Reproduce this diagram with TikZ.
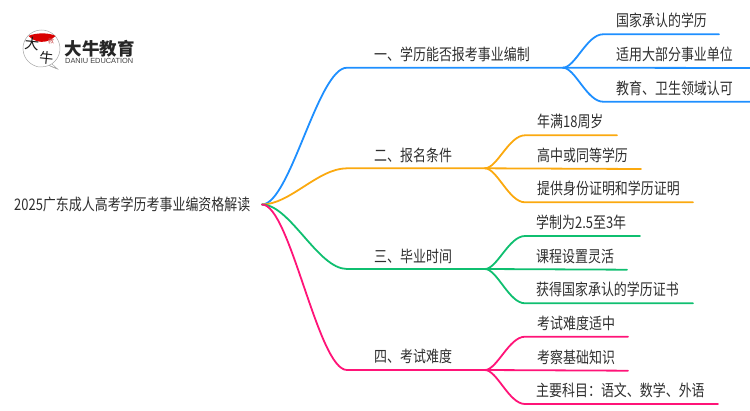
\documentclass[tikz,border=0pt]{standalone}
\usepackage{fontspec}
\setmainfont[FakeStretch=0.81]{Noto Sans CJK SC}
\newfontfamily\logofont{Noto Sans CJK SC}
\newfontfamily\latinlogo{Liberation Sans}
\definecolor{cblue}{HTML}{1E8FFF}
\definecolor{corange}{HTML}{FBA90F}
\definecolor{cgreen}{HTML}{0FBF70}
\definecolor{cpink}{HTML}{FF1478}
\definecolor{ctext}{HTML}{2E2E2E}
\tikzset{
  lab/.style={anchor=west,inner sep=0pt,text=ctext,font=\fontsize{16}{16}\selectfont},
  wire/.style={line width=1.8pt,line cap=round}
}
\begin{document}
\begin{tikzpicture}[x=1pt,y=-1pt]
\useasboundingbox (0,0) rectangle (750,410);
% logo
\fill[white,draw=black!35,line width=0.5pt] (57.5,69) -- (49,65.4) arc (66:-246:18.5 and 18.5) .. controls (38,68) and (45,67) .. (49,65.4);
\draw[black!35,line width=0.5pt] (49,65.4) -- (57.5,69) -- (52,64);
\fill[red!85!black] (28.5,36) arc (137:43:18.5) .. controls (50,32.5) and (35,32.5) .. cycle;
\node[inner sep=0pt,rotate=-6,font=\logofont\fontsize{14.5}{14.5}\selectfont,text=black!90] (logoa) at (32,44) {大};
\node[inner sep=0pt,rotate=-6,font=\logofont\fontsize{14}{14}\selectfont,text=black!90] (logob) at (46.5,57.5) {牛};
\node[inner sep=0pt,font=\logofont\fontsize{6}{6}\selectfont,text=red!70!black!70] (logoc) at (51,41) {教};
\node[anchor=west,inner sep=0pt,font=\logofont\fontsize{17.5}{17.5}\selectfont\bfseries,text=black!85] (logot) at (64.5,48.5) {大牛教育};
\node[anchor=west,inner sep=0pt,font=\latinlogo\fontsize{7.4}{7.4}\selectfont,text=black!75] (logos) at (65,60.5) {DANIU EDUCATION};
% texts
\node[lab] (root) at (14,204) {2025广东成人高考学历考事业编资格解读};
\node[lab] (b1) at (374,54) {一、学历能否报考事业编制};
\node[lab] (b2) at (374,155) {二、报名条件};
\node[lab] (b3) at (374,256) {三、毕业时间};
\node[lab] (b4) at (374,356) {四、考试难度};
\node[lab] (a1) at (616,20.5) {国家承认的学历};
\node[lab] (a2) at (616,54) {适用大部分事业单位};
\node[lab] (a3) at (616,88) {教育、卫生领域认可};
\node[lab] (c1) at (537,121) {年满18周岁};
\node[lab] (c2) at (537,155) {高中或同等学历};
\node[lab] (c3) at (537,188.5) {提供身份证明和学历证明};
\node[lab] (d1) at (536,222) {学制为2.5至3年};
\node[lab] (d2) at (536,256) {课程设置灵活};
\node[lab] (d3) at (536,289.5) {获得国家承认的学历证书};
\node[lab] (e1) at (537,323) {考试难度适中};
\node[lab] (e2) at (537,357) {考察基础知识};
\node[lab] (e3) at (536,390) {主要科目：语文、数学、外语};
% anchors
\coordinate (o) at (262,204.5);
\coordinate (s1) at (347,67.7); \coordinate (x1) at (563,67.7);
\coordinate (s2) at (347,168.3); \coordinate (x2) at (485,168.3);
\coordinate (s3) at (347,269); \coordinate (x3) at (485,269);
\coordinate (s4) at (347,370); \coordinate (x4) at (485,370);
% trunk
\draw[wire,cblue] (o) .. controls (290,204.5) and (318,67.7) .. (s1) -- (x1);
\draw[wire,corange] (o) .. controls (290,204.5) and (318,168.3) .. (s2) -- (x2);
\draw[wire,cgreen] (o) .. controls (290,204.5) and (318,269) .. (s3) -- (x3);
\draw[wire,cpink] (o) .. controls (290,204.5) and (318,370) .. (s4) -- (x4);
% children
\draw[wire,cblue] (x1) .. controls (575,67.7) and (587,34.3) .. (603,34.3) -- (719,34.3) coordinate (a1e);
\draw[wire,cblue] (x1) -- (750,68) coordinate (a2e);
\draw[wire,cblue] (x1) .. controls (575,67.7) and (587,101.7) .. (603,101.7) -- (750,101.7) coordinate (a3e);
\draw[wire,corange] (x2) .. controls (497,168.3) and (509,135.3) .. (525,135.3) -- (617,135.3) coordinate (c1e);
\draw[wire,corange] (x2) -- (641,169) coordinate (c2e);
\draw[wire,corange] (x2) .. controls (497,168.3) and (509,202.3) .. (525,202.3) -- (693,202.3) coordinate (c3e);
\draw[wire,cgreen] (x3) .. controls (497,269) and (509,236) .. (525,236) -- (640,236) coordinate (d1e);
\draw[wire,cgreen] (x3) -- (627,269.7) coordinate (d2e);
\draw[wire,cgreen] (x3) .. controls (497,269) and (509,303.3) .. (525,303.3) -- (693,303.3) coordinate (d3e);
\draw[wire,cpink] (x4) .. controls (497,370) and (509,336.7) .. (525,336.7) -- (628,336.7) coordinate (e1e);
\draw[wire,cpink] (x4) -- (628,370.7) coordinate (e2e);
\draw[wire,cpink] (x4) .. controls (497,370) and (509,404) .. (525,404) -- (718,404) coordinate (e3e);
\end{tikzpicture}
\end{document}
